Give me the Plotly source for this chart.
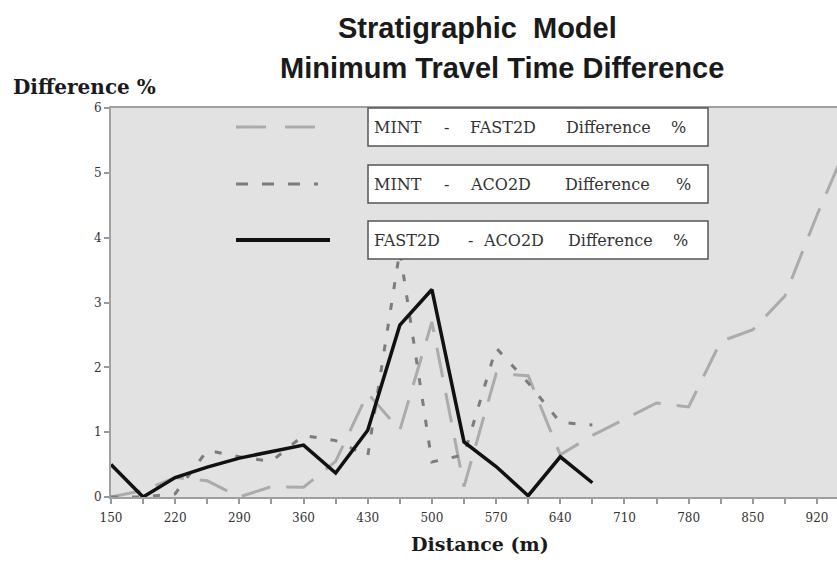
import plotly.graph_objects as go

# Distance along the profile (m)
distance_m = [150, 185, 220, 255, 290, 325, 360, 395, 430, 465, 500, 535,
              570, 605, 640, 675, 710, 745, 780, 815, 850, 885, 920, 955]

# Travel-time differences (%)
mint_fast2d = [0.0, 0.1, 0.3, 0.25, 0.0, 0.16, 0.15, 0.55, 1.6, 1.03, 2.7, 0.16,
               1.9, 1.87, 0.65, 0.95, 1.2, 1.45, 1.39, 2.4, 2.58, 3.1, 4.35, 5.5]
mint_aco2d = [0.0, 0.0, 0.05, 0.72, 0.62, 0.55, 0.95, 0.87, 0.63, 3.8, 0.54, 0.65,
              2.3, 1.76, 1.15, 1.11]
fast2d_aco2d = [0.5, 0.0, 0.3, 0.46, 0.6, 0.7, 0.8, 0.37, 1.03, 2.65, 3.2, 0.85,
                0.47, 0.02, 0.62, 0.22]

x_tick_vals = [150, 220, 290, 360, 430, 500, 570, 640, 710, 780, 850, 920]
x_tick_text = [str(v) for v in x_tick_vals]
y_tick_vals = [0, 1, 2, 3, 4, 5, 6]

legend_entries = [
    ("MINT - FAST2D Difference %", "#ababab", "30px,19px", 3, [("MINT", 398), ("-", 446), ("FAST2D", 503), ("Difference", 608), ("%", 678)]),
    ("MINT - ACO2D Difference %", "#7c7c7c", "12px,14px", 3, [("MINT", 398), ("-", 446), ("ACO2D", 500), ("Difference", 607), ("%", 683)]),
    ("FAST2D - ACO2D Difference %", "#111111", "solid", 4, [("FAST2D", 407), ("-", 470), ("ACO2D", 513), ("Difference", 610), ("%", 680)]),
]

W, H = 837, 574
L, R, T, B = 111, 0, 108, 77
PW, PH = W - L - R, H - T - B


def px_x(px):
    return (px - L) / PW


def px_y(py):
    return (H - B - py) / PH


fig = go.Figure()

fig.add_trace(go.Scatter(
    x=distance_m, y=mint_fast2d, mode="lines",
    line=dict(color="#ababab", width=3, dash="30px,16px"),
    name="MINT - FAST2D Difference %", showlegend=False))
fig.add_trace(go.Scatter(
    x=distance_m[:len(mint_aco2d)], y=mint_aco2d, mode="lines",
    line=dict(color="#7c7c7c", width=3, dash="7px,14px"),
    name="MINT - ACO2D Difference %", showlegend=False))
fig.add_trace(go.Scatter(
    x=distance_m[:len(fast2d_aco2d)], y=fast2d_aco2d, mode="lines",
    line=dict(color="#111111", width=3.5),
    name="FAST2D - ACO2D Difference %", showlegend=False))

shapes = []
annotations = []

# Boxed legend: line sample on the left, framed label on the right
sample_y = [127, 184, 240]
box_y = [(108, 146), (165, 203), (221, 259)]
for (label, color, dash, width, words), sy, (by0, by1) in zip(legend_entries, sample_y, box_y):
    shapes.append(dict(type="line", xref="paper", yref="paper",
                       x0=px_x(236), x1=px_x(330 if dash == "solid" else 318),
                       y0=px_y(sy), y1=px_y(sy), layer="above",
                       line=dict(color=color, width=width, dash=dash)))
    shapes.append(dict(type="rect", xref="paper", yref="paper",
                       x0=px_x(368), x1=px_x(708), y0=px_y(by1), y1=px_y(by0),
                       layer="above", fillcolor="white",
                       line=dict(color="#555555", width=1.5)))
    cy = (by0 + by1) / 2
    for word, cx in words:
        annotations.append(dict(text=word, xref="paper", yref="paper",
                                x=px_x(cx), y=px_y(cy), xanchor="center", yanchor="middle",
                                showarrow=False,
                                font=dict(family="DejaVu Serif", size=16, color="#333333")))

# Titles
annotations.append(dict(text="<b>Stratigraphic\u00a0\u00a0Model</b>", xref="paper", yref="paper",
                        x=px_x(477), y=px_y(28), xanchor="center", yanchor="middle", showarrow=False,
                        font=dict(family="Liberation Sans", size=29, color="#1a1a1a")))
annotations.append(dict(text="<b>Minimum Travel Time Difference</b>", xref="paper", yref="paper",
                        x=px_x(502), y=px_y(68), xanchor="center", yanchor="middle", showarrow=False,
                        font=dict(family="Liberation Sans", size=29, color="#1a1a1a")))
annotations.append(dict(text="<b>Difference %</b>", xref="paper", yref="paper",
                        x=px_x(11), y=px_y(87), xanchor="left", yanchor="middle", showarrow=False,
                        font=dict(family="DejaVu Serif", size=20, color="#1a1a1a")))
annotations.append(dict(text="<b>Distance (m)</b>", xref="paper", yref="paper",
                        x=px_x(480), y=px_y(544), xanchor="center", yanchor="middle", showarrow=False,
                        font=dict(family="DejaVu Serif", size=19, color="#1a1a1a")))

fig.update_layout(
    width=W, height=H,
    margin=dict(l=L, r=R, t=T, b=B, pad=0),
    paper_bgcolor="white",
    plot_bgcolor="#e2e2e2",
    shapes=shapes,
    annotations=annotations,
    showlegend=False,
)

fig.update_xaxes(
    range=[150, 150 + PW * 770 / 706],
    tickmode="array", tickvals=x_tick_vals, ticktext=x_tick_text,
    ticks="outside", ticklen=5, tickcolor="#999999", tickwidth=1.5,
    minor=dict(ticks="outside", ticklen=5, tickcolor="#999999", dtick=35, tick0=150, showgrid=False),
    showgrid=False, zeroline=False,
    showline=True, linecolor="#a0a0a0", linewidth=2, mirror=True,
    tickfont=dict(family="DejaVu Serif", size=12, color="#333333"),
    ticklabelstandoff=4,
)
fig.update_yaxes(
    range=[0, 6],
    tickmode="array", tickvals=y_tick_vals,
    ticks="outside", ticklen=5, tickcolor="#999999", tickwidth=1.5,
    showgrid=False, zeroline=False,
    showline=True, linecolor="#a0a0a0", linewidth=2,
    tickfont=dict(family="DejaVu Serif", size=12, color="#333333"),
)

fig.write_html("out.html")
